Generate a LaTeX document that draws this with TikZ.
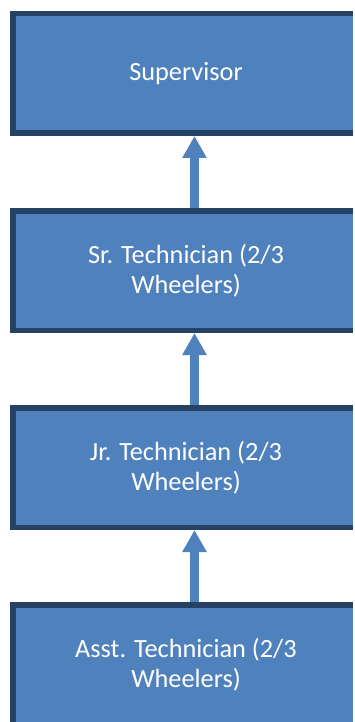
\documentclass[tikz,border=0pt]{standalone}
\usepackage{fontspec}
\setmainfont{Carlito}
\usetikzlibrary{arrows.meta}
\definecolor{boxfill}{HTML}{4F81BD}
\definecolor{boxline}{HTML}{254163}
\tikzset{
  orgbox/.style={rectangle, minimum width=352pt, minimum height=125pt,
    inner sep=0pt, outer sep=0pt,
    text=white, align=center, font=\fontsize{26.3}{30}\selectfont},
  boxfillstyle/.style={fill=boxfill},
  boxframe/.style={draw=boxline, line width=5.5pt, line join=miter},
  uparrow/.style={draw=boxfill, line width=9pt,
    -{Triangle[width=23pt,length=22pt]}}
}
\begin{document}
\begin{tikzpicture}[x=1pt,y=-1pt]
\useasboundingbox (0,0) rectangle (354,722);
\coordinate (edge) at (352.5,0);
\foreach \n/\y in {1/73.5,2/270.5,3/467.5,4/664.5}
  \path (186,\y) coordinate (c\n);
\foreach \n in {1,2,3,4}{
  \fill[boxfillstyle] ([shift={(-176,-62.5)}]c\n) rectangle ([shift={(0,62.5)}]c\n -| edge);
  \draw[boxframe] ([shift={(0,-59.75)}]c\n -| edge) -- ([shift={(-173.25,-59.75)}]c\n)
     -- ([shift={(-173.25,59.75)}]c\n) -- ([shift={(0,59.75)}]c\n -| edge);
}
\node[orgbox] (b1) at (c1) {Supervisor};
\node[orgbox] (b2) at (c2) {Sr. Technician (2/3\\Wheelers)};
\node[orgbox] (b3) at (c3) {Jr. Technician (2/3\\Wheelers)};
\node[orgbox] (b4) at (c4) {Asst. Technician (2/3\\Wheelers)};
\coordinate (ax) at (194.5,0);
\draw[uparrow] (b2.north -| ax) -- (b1.south -| ax);
\draw[uparrow] (b3.north -| ax) -- (b2.south -| ax);
\draw[uparrow] (b4.north -| ax) -- (b3.south -| ax);
\end{tikzpicture}
\end{document}
